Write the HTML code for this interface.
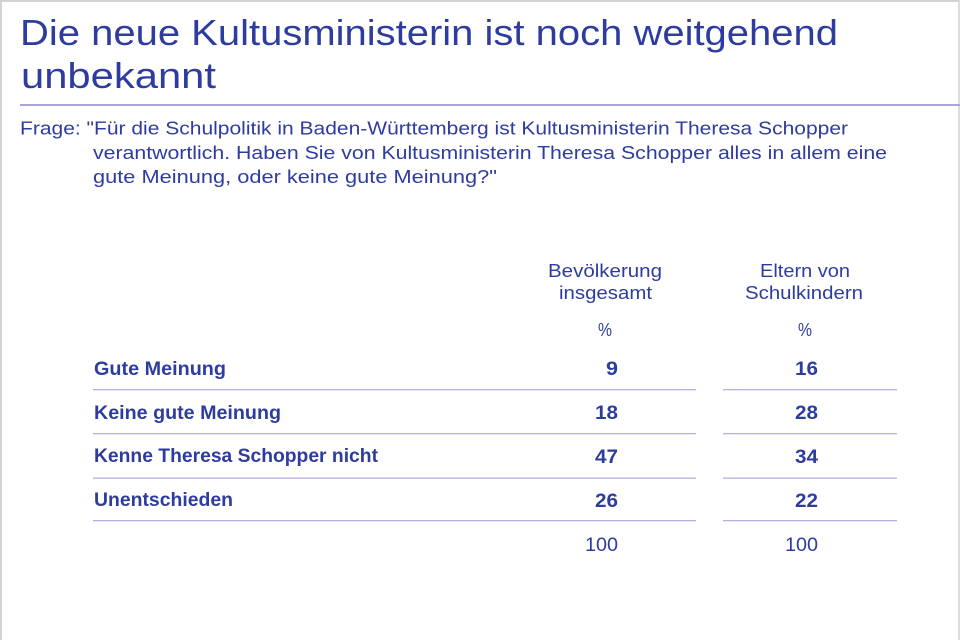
<!DOCTYPE html>
<html>
<head>
<meta charset="utf-8">
<style>
html,body{margin:0;padding:0;background:#fff;}
svg{display:block;}
text{font-family:"Liberation Sans",sans-serif;fill:#2d3c9e;}
.b{font-weight:bold;}
</style>
</head>
<body>
<svg width="960" height="640" viewBox="0 0 960 640" xmlns="http://www.w3.org/2000/svg">
<rect x="0" y="0" width="960" height="640" fill="#fff"/>
<!-- frame -->
<rect x="0" y="0" width="960" height="2" fill="#d2d2d2"/>
<rect x="0" y="0" width="2" height="640" fill="#d2d2d2"/>
<rect x="958" y="0" width="2" height="640" fill="#dcdcdc"/>

<!-- title -->
<text x="20" y="45" font-size="36" textLength="818" lengthAdjust="spacingAndGlyphs">Die neue Kultusministerin ist noch weitgehend</text>
<text x="21" y="88" font-size="36" textLength="195" lengthAdjust="spacingAndGlyphs">unbekannt</text>
<rect x="20" y="104" width="940" height="2" fill="#a9a6d9"/>

<!-- question -->
<text x="20" y="134.5" font-size="18" textLength="828" lengthAdjust="spacingAndGlyphs">Frage: "Für die Schulpolitik in Baden-Württemberg ist Kultusministerin Theresa Schopper</text>
<text x="93" y="159" font-size="18" textLength="794" lengthAdjust="spacingAndGlyphs">verantwortlich. Haben Sie von Kultusministerin Theresa Schopper alles in allem eine</text>
<text x="93" y="183" font-size="18" textLength="404" lengthAdjust="spacingAndGlyphs">gute Meinung, oder keine gute Meinung?"</text>

<!-- column headers -->
<text x="548" y="277" font-size="18" textLength="114" lengthAdjust="spacingAndGlyphs">Bevölkerung</text>
<text x="559" y="299" font-size="18" textLength="93" lengthAdjust="spacingAndGlyphs">insgesamt</text>
<text x="598" y="336" font-size="18" textLength="14" lengthAdjust="spacingAndGlyphs">%</text>

<text x="760" y="277" font-size="18" textLength="90" lengthAdjust="spacingAndGlyphs">Eltern von</text>
<text x="745" y="299" font-size="18" textLength="118" lengthAdjust="spacingAndGlyphs">Schulkindern</text>
<text x="798" y="336" font-size="18" textLength="14" lengthAdjust="spacingAndGlyphs">%</text>

<!-- row labels -->
<text class="b" x="94" y="375" font-size="19" textLength="132" lengthAdjust="spacingAndGlyphs">Gute Meinung</text>
<text class="b" x="94" y="419" font-size="19" textLength="187" lengthAdjust="spacingAndGlyphs">Keine gute Meinung</text>
<text class="b" x="94" y="462" font-size="19" textLength="284" lengthAdjust="spacingAndGlyphs">Kenne Theresa Schopper nicht</text>
<text class="b" x="94" y="506" font-size="19" textLength="139" lengthAdjust="spacingAndGlyphs">Unentschieden</text>

<!-- numbers col1 -->
<text class="b" x="606" y="375" font-size="19" textLength="12" lengthAdjust="spacingAndGlyphs">9</text>
<text class="b" x="595" y="419" font-size="19" textLength="23" lengthAdjust="spacingAndGlyphs">18</text>
<text class="b" x="595" y="463" font-size="19" textLength="23" lengthAdjust="spacingAndGlyphs">47</text>
<text class="b" x="595" y="507" font-size="19" textLength="23" lengthAdjust="spacingAndGlyphs">26</text>
<text x="585" y="551" font-size="19" textLength="33" lengthAdjust="spacingAndGlyphs">100</text>

<!-- numbers col2 -->
<text class="b" x="795" y="375" font-size="19" textLength="23" lengthAdjust="spacingAndGlyphs">16</text>
<text class="b" x="795" y="419" font-size="19" textLength="23" lengthAdjust="spacingAndGlyphs">28</text>
<text class="b" x="795" y="463" font-size="19" textLength="23" lengthAdjust="spacingAndGlyphs">34</text>
<text class="b" x="795" y="507" font-size="19" textLength="23" lengthAdjust="spacingAndGlyphs">22</text>
<text x="785" y="551" font-size="19" textLength="33" lengthAdjust="spacingAndGlyphs">100</text>

<!-- row separators -->
<g fill="#b3b1e0">
<rect x="93" y="389" width="603" height="1.3"/>
<rect x="723" y="389" width="174" height="1.3"/>
<rect x="93" y="433" width="603" height="1.3"/>
<rect x="723" y="433" width="174" height="1.3"/>
<rect x="93" y="477.5" width="603" height="1.3"/>
<rect x="723" y="477.5" width="174" height="1.3"/>
<rect x="93" y="520" width="603" height="1.3"/>
<rect x="723" y="520" width="174" height="1.3"/>
</g>
</svg>
</body>
</html>
